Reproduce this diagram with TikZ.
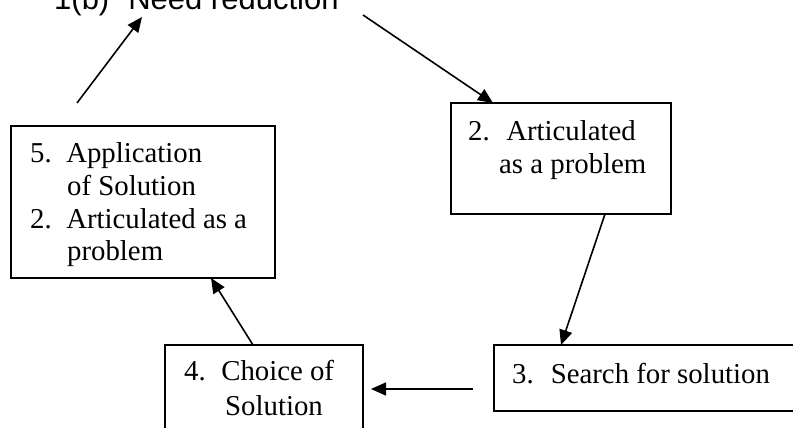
\documentclass[tikz,border=0pt]{standalone}
\usepackage{fontspec}
\setmainfont{Liberation Serif}
\newfontfamily\titlefont{Liberation Sans}
\usetikzlibrary{arrows.meta,calc}
\begin{document}
\begin{tikzpicture}[x=1pt,y=-1pt,
  box/.style={draw, line width=1.8pt, inner sep=0pt, outer sep=0pt},
  txt/.style={anchor=base west, inner sep=0pt, font=\fontsize{28.8}{33}\selectfont},
  arr/.style={line width=1.6pt, -{Triangle[length=15pt,width=13pt]}}]
\useasboundingbox (0,0) rectangle (793,428);
% title
\node[anchor=base west, inner sep=0pt, font=\titlefont\fontsize{31}{36}\selectfont] (need) at (54,10) {1(b)\hspace{19pt}Need reduction};
% boxes
\node[box, minimum width=264pt, minimum height=152pt] (b5) at (143,202) {};
\node[box, minimum width=220pt, minimum height=111pt] (b2) at (561,158.5) {};
\node[box, minimum width=316pt, minimum height=66pt] (b3) at (652,378) {};
\node[box, minimum width=198pt, minimum height=100pt] (b4) at (264,395) {};
% texts box 5
\node[txt] (b5l1) at (30,162) {5.\hspace{14.5pt}Application};
\node[txt] (b5l2) at (67,195) {of Solution};
\node[txt] (b5l3) at (30,228) {2.\hspace{14.5pt}Articulated as a};
\node[txt] (b5l4) at (67,260) {problem};
% texts box 2
\node[txt] (b2l1) at (468,140) {2.\hspace{16.5pt}Articulated};
\node[txt] (b2l2) at (499,173) {as a problem};
% texts box 3
\node[txt] (b3l1) at (512,383) {3.\hspace{17pt}Search for solution};
% texts box 4
\node[txt] (b4l1) at (184,380) {4.\hspace{15.5pt}Choice of};
\node[txt] (b4l2) at (225,415) {Solution};
% connectors
\coordinate (t1) at (77,103);
\coordinate (h1) at (142,17);
\draw[arr] (t1) -- (h1);
\coordinate (t2) at (363,15);
\draw[arr] (t2) -- ($(b2.north west)+(42,0)$);
\draw[arr] ($(b2.south west)+(154,0)$) -- ($(b3.north west)+(67,0)$);
\coordinate (t4) at (473,389);
\coordinate (h4) at (371,389);
\draw[arr] (t4) -- (h4);
\draw[arr] ($(b4.north west)+(88,0)$) -- ($(b5.south west)+(200,0)$);
\end{tikzpicture}
\end{document}
